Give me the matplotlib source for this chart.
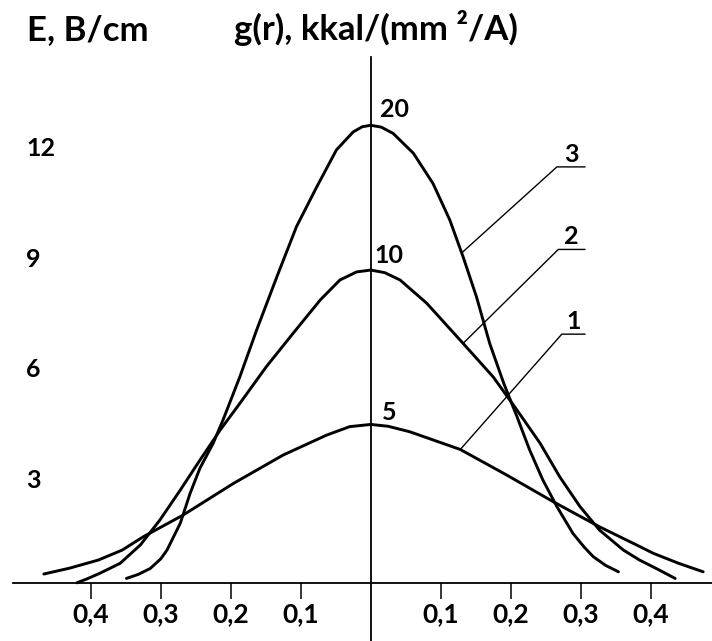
import numpy as np
import matplotlib
matplotlib.use("Agg")
import matplotlib.pyplot as plt

plt.rcParams['font.family'] = ['Lato', 'DejaVu Sans']
plt.rcParams['font.weight'] = 'bold'

# curves: r (both sides of the axis) and E
r1 = [-0.467, -0.43, -0.389, -0.355, -0.325, -0.268, -0.196, -0.125, -0.063, -0.03,
      0.0, 0.025, 0.056, 0.128, 0.194, 0.261, 0.327, 0.385, 0.404, 0.44, 0.475]
e1 = [0.45, 0.61, 0.83, 1.10, 1.46, 2.05, 2.91, 3.68, 4.22, 4.45,
      4.51, 4.46, 4.31, 3.83, 3.14, 2.41, 1.73, 1.19, 1.01, 0.74, 0.51]

r2 = [-0.42, -0.405, -0.387, -0.358, -0.329, -0.301, -0.272, -0.244, -0.215, -0.187,
      -0.149, -0.111, -0.072, -0.044, -0.02, 0.0, 0.02, 0.042, 0.08, 0.132,
      0.175, 0.209, 0.242, 0.27, 0.299, 0.327, 0.361, 0.384, 0.41, 0.435]
e2 = [0.21, 0.32, 0.47, 0.74, 1.24, 1.92, 2.73, 3.54, 4.36, 5.08,
      6.08, 6.98, 7.89, 8.43, 8.65, 8.70, 8.63, 8.43, 7.80, 6.71,
      5.80, 4.90, 4.00, 3.09, 2.28, 1.64, 1.10, 0.83, 0.58, 0.33]

r3 = [-0.349, -0.332, -0.315, -0.30, -0.291, -0.272, -0.258, -0.244, -0.225, -0.211,
      -0.187, -0.163, -0.134, -0.106, -0.077, -0.049, -0.025, -0.012, 0.0, 0.015,
      0.032, 0.061, 0.089, 0.113, 0.132, 0.151, 0.17, 0.19, 0.209, 0.227, 0.246,
      0.266, 0.289, 0.305, 0.318, 0.336, 0.354]
e3 = [0.33, 0.44, 0.60, 0.86, 1.10, 1.83, 2.64, 3.32, 4.00, 4.63,
      5.80, 7.07, 8.52, 9.88, 10.96, 11.96, 12.45, 12.59, 12.63, 12.58,
      12.41, 11.87, 11.05, 10.06, 9.06, 7.98, 6.71, 5.63, 4.72, 3.82, 3.00,
      2.28, 1.55, 1.18, 0.92, 0.68, 0.51]

curves = [(r1, e1), (r2, e2), (r3, e3)]
curve_names = ['1', '2', '3']
peak_labels = ['5', '10', '20']
peak_offsets = [(8, 3), (3, 5), (7, 6)]           # points
leader_touch = [0.128, 0.132, 0.13]               # r where leader meets curve
leader_elbow = [(0.273, 6.96), (0.268, 9.26), (0.266, 11.50)]
leader_end = 0.306

x_ticks = [-0.4, -0.3, -0.2, -0.1, 0.1, 0.2, 0.3, 0.4]
x_tick_labels = ['0,4', '0,3', '0,2', '0,1', '0,1', '0,2', '0,3', '0,4']
y_ticks = [3, 6, 9, 12]
baseline = 0.206

fig = plt.figure(figsize=(7.12, 6.41), dpi=100)
ax = fig.add_axes([0, 0, 1, 1])
ax.set_xlim(-0.5296, 0.4876)
ax.set_ylim(-1.368, 16.03)

for r, e in curves:
    ax.plot(r, e, color='black', lw=2.1, solid_joinstyle='round',
            solid_capstyle='round')

for (r, e), lab, off in zip(curves, peak_labels, peak_offsets):
    ax.annotate(lab, xy=(0, max(e)), xytext=off, textcoords='offset points',
                fontsize=18, ha='left', va='baseline')

for (r, e), name, xt, (xe, ye) in zip(curves, curve_names, leader_touch, leader_elbow):
    yt = np.interp(xt, r, e)
    ax.plot([xt, xe, leader_end], [yt, ye, ye], color='black', lw=1.0)
    ax.annotate(name, xy=((xe + leader_end) / 2, ye), xytext=(0, 3.6),
                textcoords='offset points', fontsize=18, ha='center', va='baseline')

# axes
for s in ['top', 'right', 'left']:
    ax.spines[s].set_visible(False)
ax.spines['bottom'].set_position(('data', baseline))
ax.spines['bottom'].set_bounds(-0.511, 0.4876)
ax.spines['bottom'].set_linewidth(1.3)
ax.axvline(0, ymin=0, ymax=1 - 57 / 641, color='black', lw=1.3)

ax.set_xticks(x_ticks)
ax.set_xticklabels(x_tick_labels, fontsize=19, fontweight='bold')
ax.tick_params(axis='x', direction='out', length=11.5, width=1.1, pad=2)
ax.set_yticks([])

for v in y_ticks:
    ax.text(0.0365, v, str(v), transform=ax.get_yaxis_transform(),
            fontsize=18, ha='left', va='center')

fig.text(0.038, 1 - 40 / 641, 'E, B/cm', fontsize=25, ha='left', va='baseline')
fig.text(0.329, 1 - 40 / 641, 'g(r), kkal/(mm ²/A)', fontsize=25,
         ha='left', va='baseline')

fig.savefig('out.png', dpi=100)
